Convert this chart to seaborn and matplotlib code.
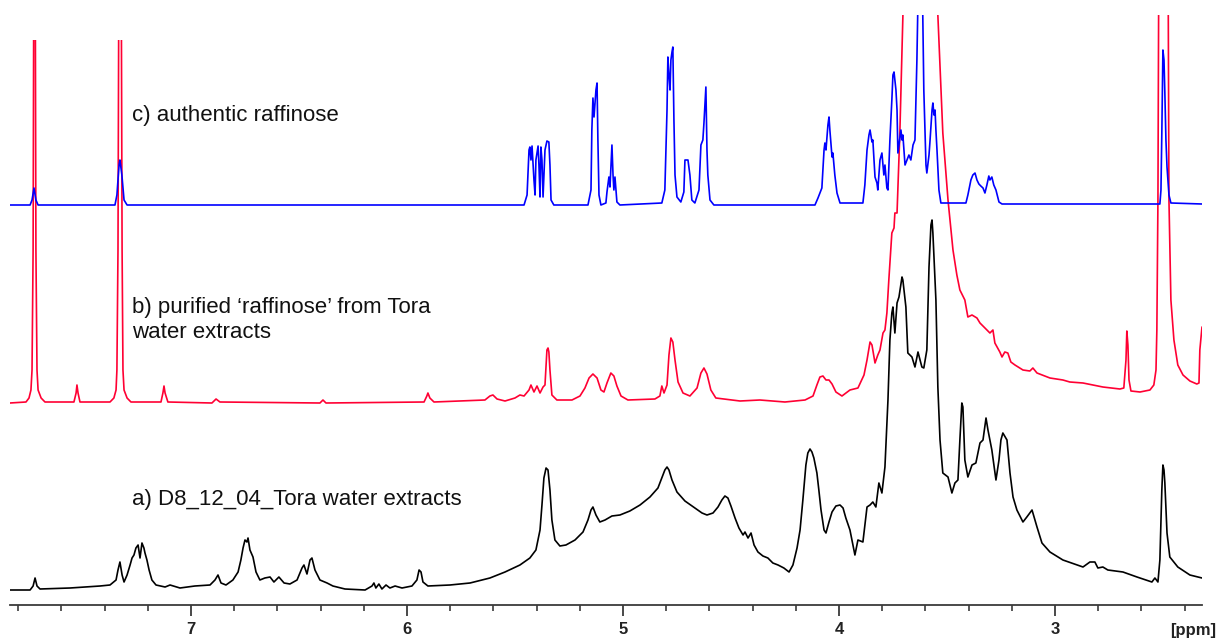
import matplotlib
matplotlib.use("Agg")
import matplotlib.pyplot as plt
from matplotlib.path import Path
from matplotlib.ticker import MultipleLocator
import seaborn as sns

# ---------------- data (chemical shift in ppm, intensity in arbitrary units) -------------
blue_ppm = [7.838, 7.745, 7.736, 7.727, 7.718, 7.708, 7.352, 7.343, 7.333, 7.329, 7.320, 7.310, 7.296,
            5.458, 5.444, 5.435, 5.431, 5.426, 5.421, 5.412, 5.407, 5.403, 5.393, 5.389, 5.384, 5.380,
            5.375, 5.370, 5.361, 5.352, 5.343, 5.338, 5.333, 5.320, 5.162, 5.148, 5.144, 5.139, 5.134,
            5.125, 5.120, 5.116, 5.111, 5.102, 5.079, 5.074, 5.065, 5.060, 5.051, 5.046, 5.042, 5.037,
            5.028, 5.014, 4.820, 4.806, 4.796, 4.792, 4.787, 4.782, 4.778, 4.773, 4.769, 4.764, 4.759,
            4.750, 4.732, 4.718, 4.713, 4.699, 4.690, 4.681, 4.667, 4.648, 4.639, 4.630, 4.625, 4.616,
            4.611, 4.607, 4.597, 4.579, 4.111, 4.097, 4.088, 4.079, 4.069, 4.065, 4.060, 4.051, 4.046,
            4.042, 4.032, 4.028, 4.019, 4.009, 3.995, 3.889, 3.880, 3.870, 3.861, 3.856, 3.847, 3.843,
            3.833, 3.824, 3.820, 3.810, 3.801, 3.792, 3.787, 3.778, 3.773, 3.764, 3.755, 3.750, 3.745,
            3.736, 3.731, 3.727, 3.722, 3.713, 3.708, 3.704, 3.694, 3.685, 3.676, 3.667, 3.657, 3.648,
            3.639, 3.630, 3.616, 3.607, 3.597, 3.593, 3.583, 3.579, 3.569, 3.565, 3.560, 3.555, 3.551,
            3.546, 3.537, 3.528, 3.412, 3.403, 3.389, 3.380, 3.370, 3.361, 3.352, 3.343, 3.333, 3.324,
            3.315, 3.306, 3.301, 3.292, 3.283, 3.273, 3.259, 3.245, 2.514, 2.509, 2.505, 2.500, 2.495,
            2.491, 2.486, 2.481, 2.472, 2.463, 2.319]
blue_int = [0, 0, 5, 17, 5, 0, 0, 10, 40, 45, 30, 5, 0,
            0, 10, 55, 58, 45, 59, 25, 10, 45, 59, 40, 8, 58,
            45, 8, 55, 64, 63, 40, 5, 0, 0, 15, 75, 107, 88,
            115, 122, 65, 10, 0, 2, 13, 28, 18, 60, 30, 15, 28,
            3, 0, 2, 15, 95, 148, 130, 115, 145, 153, 158, 85, 30,
            8, 3, 13, 45, 45, 30, 5, 2, 15, 60, 65, 82, 118,
            55, 30, 5, 0, 0, 7, 12, 17, 55, 62, 55, 80, 88,
            75, 48, 52, 30, 12, 2, 2, 20, 55, 70, 75, 63, 65,
            28, 22, 15, 45, 52, 30, 40, 17, 15, 65, 105, 130, 133,
            115, 95, 52, 60, 75, 65, 70, 40, 45, 50, 45, 60, 65,
            145, 255, 255, 115, 40, 32, 50, 62, 95, 102, 90, 95, 75,
            55, 15, 2, 2, 10, 25, 30, 32, 25, 21, 19, 17, 12,
            20, 29, 25, 28, 20, 15, 3, 1, 1, 15, 72, 155, 145,
            112, 65, 38, 10, 2, 1]

red_ppm = [7.838, 7.764, 7.750, 7.741, 7.736, 7.731, 7.727, 7.722, 7.718, 7.713, 7.708, 7.694, 7.676,
           7.542, 7.532, 7.528, 7.523, 7.514, 7.375, 7.357, 7.347, 7.343, 7.338, 7.333, 7.324, 7.319,
           7.315, 7.310, 7.296, 7.278, 7.139, 7.130, 7.125, 7.120, 7.107, 6.903, 6.884, 6.866, 6.403,
           6.389, 6.375, 5.921, 5.908, 5.903, 5.894, 5.875, 5.639, 5.616, 5.602, 5.583, 5.546, 5.500,
           5.477, 5.458, 5.435, 5.426, 5.412, 5.398, 5.384, 5.370, 5.361, 5.352, 5.347, 5.343, 5.338,
           5.329, 5.306, 5.236, 5.199, 5.176, 5.157, 5.139, 5.120, 5.102, 5.088, 5.074, 5.056, 5.042,
           5.028, 5.009, 4.977, 4.852, 4.829, 4.820, 4.810, 4.796, 4.787, 4.778, 4.769, 4.759, 4.745,
           4.722, 4.690, 4.657, 4.639, 4.625, 4.611, 4.593, 4.570, 4.458, 4.366, 4.250, 4.157, 4.120,
           4.102, 4.088, 4.074, 4.060, 4.046, 4.032, 4.014, 3.986, 3.949, 3.912, 3.884, 3.870, 3.856,
           3.847, 3.833, 3.820, 3.810, 3.796, 3.787, 3.778, 3.769, 3.755, 3.745, 3.741, 3.731, 3.718,
           3.704, 3.694, 3.551, 3.542, 3.519, 3.495, 3.472, 3.454, 3.440, 3.417, 3.403, 3.384, 3.361,
           3.347, 3.324, 3.301, 3.287, 3.278, 3.255, 3.245, 3.232, 3.218, 3.204, 3.185, 3.148, 3.116,
           3.102, 3.083, 3.023, 2.963, 2.931, 2.870, 2.778, 2.699, 2.681, 2.671, 2.667, 2.662, 2.657,
           2.648, 2.606, 2.560, 2.542, 2.532, 2.528, 2.523, 2.518, 2.477, 2.472, 2.463, 2.449, 2.431,
           2.407, 2.375, 2.343, 2.333, 2.329, 2.319]
red_int = [0, 1, 5, 13, 33, 153, 503, 503, 153, 33, 13, 5, 1,
           1, 10, 18, 10, 1, 1, 5, 13, 33, 153, 503, 503, 153,
           33, 13, 5, 1, 1, 10, 17, 10, 1, 0, 4, 1, 0,
           3, 0, 1, 7, 10, 5, 1, 3, 7, 8, 4, 2, 5,
           8, 7, 13, 18, 11, 17, 10, 16, 18, 53, 55, 51, 33,
           8, 3, 3, 7, 15, 25, 29, 25, 13, 11, 20, 30, 27,
           17, 7, 3, 4, 7, 17, 10, 18, 48, 65, 61, 43, 21,
           10, 7, 15, 30, 35, 29, 13, 5, 2, 3, 1, 3, 7,
           18, 26, 27, 23, 23, 19, 11, 7, 13, 15, 28, 43, 61,
           58, 40, 48, 53, 70, 73, 90, 123, 170, 175, 190, 190, 270,
           386, 503, 503, 388, 270, 203, 153, 128, 113, 103, 86, 88, 85,
           80, 75, 70, 73, 60, 51, 46, 51, 50, 41, 38, 33, 32,
           35, 30, 25, 23, 21, 20, 16, 14, 15, 43, 72, 58, 23,
           12, 11, 13, 18, 33, 73, 203, 503, 503, 203, 103, 63, 38,
           28, 22, 19, 20, 53, 76]

black_ppm = [7.838, 7.745, 7.731, 7.722, 7.713, 7.699, 7.560, 7.421, 7.375, 7.347, 7.338, 7.329, 7.319,
             7.310, 7.296, 7.282, 7.273, 7.264, 7.255, 7.245, 7.236, 7.227, 7.218, 7.213, 7.204, 7.194,
             7.181, 7.162, 7.120, 7.097, 7.051, 6.982, 6.912, 6.889, 6.875, 6.861, 6.838, 6.806, 6.782,
             6.769, 6.759, 6.750, 6.741, 6.736, 6.727, 6.713, 6.699, 6.681, 6.658, 6.634, 6.616, 6.593,
             6.569, 6.542, 6.509, 6.486, 6.477, 6.463, 6.449, 6.440, 6.426, 6.403, 6.370, 6.343, 6.287,
             6.194, 6.162, 6.153, 6.144, 6.130, 6.116, 6.097, 6.079, 6.055, 6.023, 5.977, 5.954, 5.944,
             5.935, 5.926, 5.903, 5.801, 5.708, 5.616, 5.546, 5.477, 5.431, 5.403, 5.384, 5.375, 5.366,
             5.356, 5.347, 5.338, 5.329, 5.315, 5.292, 5.264, 5.222, 5.185, 5.162, 5.148, 5.139, 5.125,
             5.107, 5.083, 5.051, 5.014, 4.968, 4.921, 4.875, 4.838, 4.820, 4.806, 4.796, 4.787, 4.773,
             4.750, 4.713, 4.667, 4.634, 4.611, 4.583, 4.560, 4.542, 4.528, 4.514, 4.500, 4.481, 4.463,
             4.444, 4.435, 4.421, 4.407, 4.393, 4.375, 4.352, 4.329, 4.306, 4.282, 4.255, 4.231, 4.213,
             4.194, 4.180, 4.167, 4.153, 4.144, 4.134, 4.125, 4.116, 4.102, 4.093, 4.083, 4.069, 4.060,
             4.046, 4.032, 4.014, 3.995, 3.981, 3.968, 3.949, 3.926, 3.912, 3.889, 3.870, 3.856, 3.843,
             3.829, 3.815, 3.801, 3.787, 3.773, 3.764, 3.755, 3.750, 3.741, 3.731, 3.722, 3.708, 3.704,
             3.690, 3.681, 3.662, 3.648, 3.634, 3.616, 3.607, 3.593, 3.583, 3.574, 3.569, 3.565, 3.551,
             3.542, 3.532, 3.519, 3.495, 3.477, 3.463, 3.449, 3.440, 3.431, 3.426, 3.417, 3.403, 3.384,
             3.366, 3.347, 3.333, 3.319, 3.310, 3.292, 3.273, 3.259, 3.250, 3.241, 3.222, 3.208, 3.194,
             3.176, 3.148, 3.130, 3.106, 3.083, 3.060, 3.023, 2.963, 2.870, 2.838, 2.815, 2.801, 2.778,
             2.755, 2.685, 2.620, 2.551, 2.537, 2.523, 2.514, 2.505, 2.500, 2.495, 2.491, 2.481, 2.468,
             2.431, 2.375, 2.319]
black_int = [0, 0, 4, 12, 4, 1, 2, 4, 5, 10, 20, 28, 15,
             8, 15, 25, 32, 35, 42, 45, 32, 47, 42, 37, 30, 20,
             10, 5, 3, 5, 2, 4, 5, 10, 15, 7, 5, 10, 18,
             30, 42, 50, 48, 52, 40, 33, 18, 10, 12, 13, 8, 13,
             7, 6, 10, 22, 25, 16, 30, 32, 20, 10, 7, 4, 1,
             0, 4, 7, 2, 6, 1, 5, 2, 4, 2, 4, 10, 20,
             18, 8, 4, 5, 7, 12, 18, 25, 32, 40, 60, 85, 112,
             122, 120, 100, 70, 50, 44, 45, 50, 58, 70, 80, 83, 75,
             68, 70, 74, 75, 79, 85, 93, 102, 112, 120, 123, 120, 110,
             98, 89, 82, 77, 75, 77, 83, 90, 94, 92, 84, 72, 62,
             55, 58, 52, 57, 45, 38, 34, 32, 27, 25, 22, 18, 25,
             42, 60, 90, 125, 137, 141, 138, 132, 117, 100, 80, 60, 57,
             68, 78, 84, 85, 82, 72, 60, 35, 50, 48, 83, 85, 88,
             83, 107, 97, 123, 190, 250, 277, 283, 257, 287, 293, 313, 310,
             283, 237, 233, 223, 238, 223, 222, 240, 323, 365, 370, 357, 290,
             203, 150, 117, 113, 97, 107, 110, 150, 187, 183, 130, 113, 125,
             127, 147, 150, 172, 160, 140, 110, 130, 150, 157, 150, 117, 93,
             80, 68, 73, 80, 63, 47, 38, 30, 23, 28, 28, 22, 23,
             20, 18, 13, 8, 12, 8, 30, 100, 125, 120, 107, 57, 33,
             23, 15, 12]

label_c = "c) authentic raffinose"
label_b = "b) purified \u2018raffinose\u2019 from Tora\nwater extracts"
label_a = "a) D8_12_04_Tora water extracts"
major_ticks = [3, 4, 5, 6, 7]
unit_label = "[ppm]"

# stacking offsets of the three traces
offset_a, offset_b, offset_c = 15, 202, 400

# ---------------- figure ----------------
sns.set_style("white")
plt.rcParams["font.family"] = ["Liberation Sans", "DejaVu Sans"]

W, H = 1217, 642
fig = plt.figure(figsize=(W / 100, H / 100), dpi=100)
ax = fig.add_axes([10 / W, (H - 605) / H, (1202 - 10) / W, 590 / H])
ax.set_xlim(7.838, 2.319)
ax.set_ylim(0, 590)

lw = 1.2
traces = [
    (black_ppm, black_int, offset_a, "#000000"),
    (red_ppm, red_int, offset_b, "#ff0033"),
    (blue_ppm, blue_int, offset_c, "#0000ff"),
]
clip = Path([(8.5, -10), (8.5, 565), (5.0, 565), (5.0, 600), (1.5, 600), (1.5, -10), (8.5, -10)])
for xs, ys, off, col in traces:
    sns.lineplot(x=xs, y=[v + off for v in ys], ax=ax, color=col, lw=lw,
                 sort=False, estimator=None, legend=False)
    line = ax.lines[-1]
    line.set_clip_path(clip, ax.transData)
    line.set_solid_joinstyle("round")

# axis styling
for s in ["top", "left", "right"]:
    ax.spines[s].set_visible(False)
ax.spines["bottom"].set_color("#3a3a3a")
ax.spines["bottom"].set_linewidth(1.3)
ax.set_yticks([])
ax.xaxis.set_major_locator(MultipleLocator(1))
ax.xaxis.set_minor_locator(MultipleLocator(0.2))
ax.tick_params(axis="x", which="major", direction="out", length=8, width=1.2,
               color="#2a2a2a", pad=4, labelsize=12, bottom=True)
ax.tick_params(axis="x", which="minor", direction="out", length=4.5, width=1.1,
               color="#2a2a2a", bottom=True)
ax.set_xticks(major_ticks)
ax.set_xticklabels([str(t) for t in major_ticks])
for t in ax.get_xticklabels():
    t.set_fontweight("bold")
    t.set_color("#222222")

fig.text(1216 / W, 1 - 630 / H, unit_label, ha="right", va="center", fontsize=12,
         fontweight="bold", color="#222222")

tx = 132 / W
fs = 16
fig.text(tx, 1 - 115 / H, label_c, ha="left", va="center", fontsize=fs, color="#111111")
fig.text(tx, 1 - 320 / H, label_b, ha="left", va="center", fontsize=fs, color="#111111",
         linespacing=1.2)
fig.text(tx, 1 - 499 / H, label_a, ha="left", va="center", fontsize=fs, color="#111111")

fig.savefig("out.png", dpi=100)
